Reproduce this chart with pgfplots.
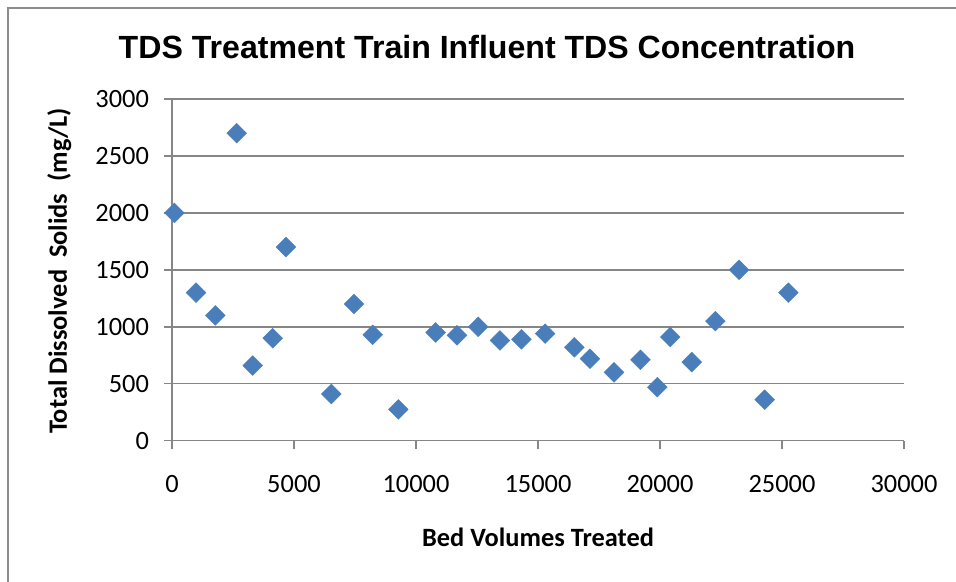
\documentclass[border=0pt]{standalone}
\usepackage{fontspec}
\setmainfont{Carlito}
\newfontfamily\arialfont{Liberation Sans}
\usepackage{pgfplots}
\pgfplotsset{compat=1.18}
\definecolor{markblue}{RGB}{74,126,187}
\definecolor{gridgray}{RGB}{134,134,134}
\definecolor{framegray}{RGB}{140,140,140}
\pgfplotstableread{
x y
100 2000
985 1300
1775 1100
2650 2700
3307 660
4127 900
4670 1700
6530 410
7460 1200
8225 930
9275 275
10805 950
11680 925
12550 1000
13440 880
14320 890
15290 940
16490 820
17130 720
18115 600
19200 710
19890 470
20420 910
21300 690
22270 1050
23240 1500
24290 360
25260 1300
}\datatable
\begin{document}
\begin{tikzpicture}
\useasboundingbox (0,0) rectangle (478pt,291pt);
\draw[framegray, line width=0.75pt] (4pt,-2pt) -- (4pt,287pt) -- (480pt,287pt);
\node[font=\arialfont\bfseries\fontsize{16.05}{19}\selectfont] at (243.5pt,267.5pt) {TDS Treatment Train Influent TDS Concentration};
\begin{axis}[
  at={(86pt,70.65pt)}, anchor=south west,
  scale only axis, width=366pt, height=170.85pt,
  xmin=0, xmax=30000, ymin=0, ymax=3000,
  xtick={0,5000,...,30000}, ytick={0,500,...,3000},
  axis x line=bottom, axis y line=left,
  axis line style={gridgray, line width=0.75pt, -},
  ymajorgrids, major grid style={gridgray, line width=0.75pt},
  tick style={gridgray, line width=0.75pt},
  tick align=outside, major tick length=4pt,
  scaled ticks=false,
  /pgf/number format/1000 sep={},
  /pgf/number format/assume math mode=true,
  ticklabel style={font=\fontsize{13.2}{15}\selectfont, text=black},
  xticklabel style={yshift=-10pt},
  yticklabel style={xshift=-4pt},
  xlabel={\textbf{Bed Volumes Treated}},
  ylabel={\textbf{Total Dissolved\ \ Solids\ \ (mg/L)}},
  label style={font=\fontsize{13.2}{15}\selectfont, text=black},
  xlabel style={at={(rel axis cs:0.5,-0.282)}, anchor=center},
  ylabel style={at={(rel axis cs:-0.154,0.497)}, anchor=center, rotate=0},
  clip=false,
]
\addplot[only marks, mark=square*, mark size=3.5pt, mark options={rotate=45, fill=markblue, draw=markblue, line width=0.2pt}] table[x=x,y=y] {\datatable};
\end{axis}
\end{tikzpicture}
\end{document}
